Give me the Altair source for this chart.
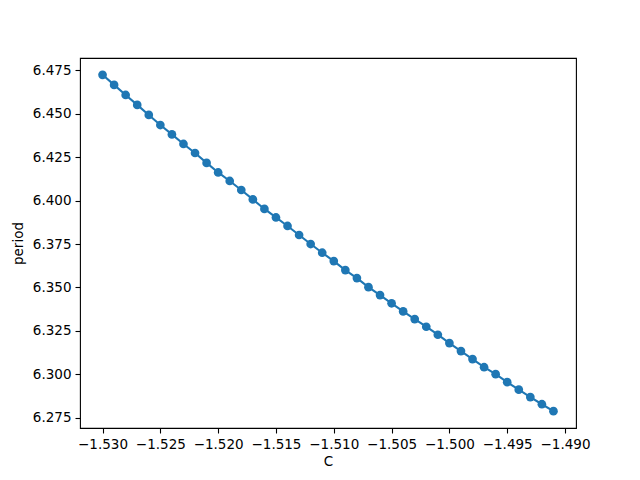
import altair as alt
import pandas as pd

C = [-1.530, -1.529, -1.528, -1.527, -1.526, -1.525, -1.524, -1.523, -1.522, -1.521,
     -1.520, -1.519, -1.518, -1.517, -1.516, -1.515, -1.514, -1.513, -1.512, -1.511,
     -1.510, -1.509, -1.508, -1.507, -1.506, -1.505, -1.504, -1.503, -1.502, -1.501,
     -1.500, -1.499, -1.498, -1.497, -1.496, -1.495, -1.494, -1.493, -1.492, -1.491]
period = [6.4724, 6.4666, 6.4608, 6.4551, 6.4493, 6.4435, 6.4381, 6.4326, 6.4274, 6.4217,
          6.4162, 6.4113, 6.4061, 6.4007, 6.3952, 6.3903, 6.3854, 6.3802, 6.3750, 6.3700,
          6.3652, 6.3600, 6.3554, 6.3502, 6.3456, 6.3409, 6.3362, 6.3318, 6.3274, 6.3228,
          6.3180, 6.3134, 6.3088, 6.3041, 6.3001, 6.2955, 6.2912, 6.2869, 6.2828, 6.2788]
x_ticks = [-1.530, -1.525, -1.520, -1.515, -1.510, -1.505, -1.500, -1.495, -1.490]
y_ticks = [6.275, 6.300, 6.325, 6.350, 6.375, 6.400, 6.425, 6.450, 6.475]

df = pd.DataFrame({"C": C, "period": period})

xpad = (max(C) - min(C)) * 0.05
ypad = (max(period) - min(period)) * 0.05
xs = alt.Scale(domain=[min(C) - xpad, max(C) + xpad], nice=False, zero=False)
ys = alt.Scale(domain=[min(period) - ypad, max(period) + ypad], nice=False, zero=False)

axis_common = dict(
    grid=False, domain=False, ticks=True, tickColor="black", tickSize=5, tickWidth=1.1,
    labelFont="DejaVu Sans", labelFontSize=13.5, labelColor="black", labelPadding=4,
    titleFont="DejaVu Sans", titleFontSize=13.5, titleColor="black", titleFontWeight="normal",
)

x_enc = alt.X("C:Q", scale=xs, title="C",
              axis=alt.Axis(values=x_ticks, format=".3f", titlePadding=4, **axis_common))
y_enc = alt.Y("period:Q", scale=ys, title="period",
              axis=alt.Axis(values=y_ticks, format=".3f", titlePadding=7, **axis_common))

base = alt.Chart(df)
line = base.mark_line(color="#1f77b4", strokeWidth=2.1).encode(x=x_enc, y=y_enc)
pts = base.mark_point(filled=True, shape="circle", size=76, color="#1f77b4", opacity=1).encode(x=x_enc, y=y_enc)

chart = (line + pts).properties(
    width=496, height=370,
    background="white",
    autosize=alt.AutoSizeParams(type="none"),
    padding={"left": 72, "top": 50, "right": 56, "bottom": 45},
).configure_view(stroke="black", strokeWidth=1.1)

chart.save("out.html", embed_options={"renderer": "svg", "actions": False})
